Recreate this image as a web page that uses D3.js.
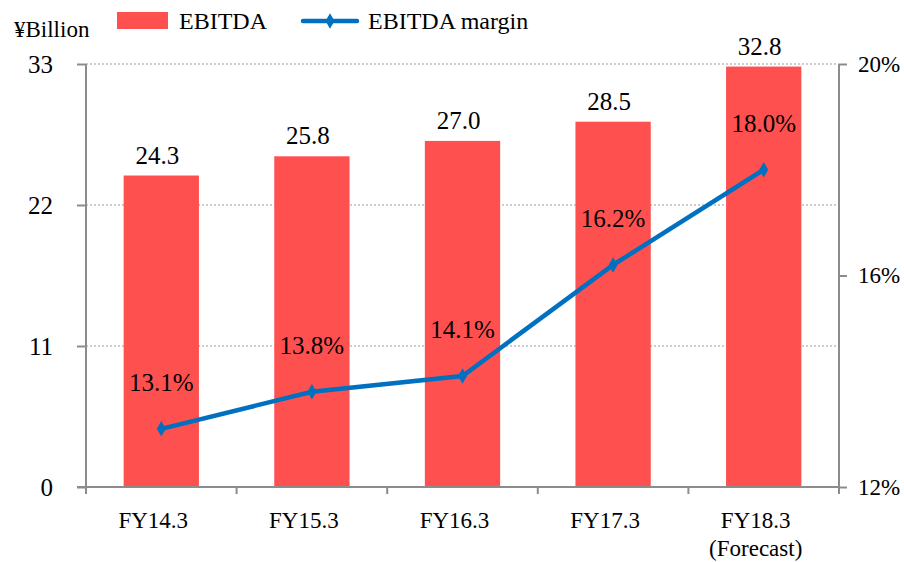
<!DOCTYPE html>
<html lang="en">
    <head>
        <meta http-equiv="Content-Type" content="text/html; charset=UTF-8" />
        <title>EBITDA</title>
        <script src="https://cdn.jsdelivr.net/npm/d3@7"></script>
        <style>
            body { margin: 0; background: #fff; }
        </style>
        <script>
            // data
            const categories = ['FY14.3', 'FY15.3', 'FY16.3', 'FY17.3', 'FY18.3']
            const subLabels = ['', '', '', '', '(Forecast)']
            const ebitda = [24.3, 25.8, 27.0, 28.5, 32.8]
            const margin = [13.1, 13.8, 14.1, 16.2, 18.0]
            const leftTicks = [0, 11, 22, 33]
            const rightTicks = [12, 16, 20]

            const dim = { w: 904, h: 562, left: 86, right: 839, top: 64, bottom: 487 }
            const barColor = '#ff5050'
            const lineColor = '#0070c0'
            const axisColor = '#8c8c8c'
            const serif = 'Liberation Serif'

            window.onload = () => draw()

            function label(sel, size) {
                return sel
                    .attr('font-family', serif)
                    .style('font-family', serif)
                    .style('font-size', size + 'px')
                    .style('fill', '#000')
            }

            function draw() {
                const svg = d3.select('#chart')
                    .attr('width', dim.w)
                    .attr('height', dim.h)

                const x = d3.scaleBand()
                    .domain(categories)
                    .range([dim.left, dim.right])
                    .paddingInner(0.5)
                    .paddingOuter(0.25)
                const cx = i => x(categories[i]) + x.bandwidth() / 2

                const y = d3.scaleLinear().domain([0, 33]).range([dim.bottom, dim.top])
                const y2 = d3.scaleLinear().domain([12, 20]).range([dim.bottom, dim.top])

                // gridlines
                svg.append('g')
                    .selectAll('line')
                    .data(leftTicks.filter(d => d > 0))
                    .enter()
                        .append('line')
                        .attr('x1', dim.left)
                        .attr('x2', dim.right)
                        .attr('y1', d => y(d))
                        .attr('y2', d => y(d))
                        .style('stroke', '#999')
                        .style('stroke-width', 1)
                        .style('stroke-dasharray', '2,2')

                // bars
                svg.append('g')
                    .selectAll('rect')
                    .data(ebitda)
                    .enter()
                        .append('rect')
                        .attr('x', (d, i) => x(categories[i]))
                        .attr('width', x.bandwidth())
                        .attr('y', d => y(d))
                        .attr('height', d => y(0) - y(d))
                        .style('fill', barColor)

                svg.append('g')
                    .selectAll('text')
                    .data(ebitda)
                    .enter()
                        .append('text')
                        .attr('x', (d, i) => cx(i) - 4)
                        .attr('y', d => y(d) - 12)
                        .attr('text-anchor', 'middle')
                        .call(label, 25)
                        .text(d => d.toFixed(1))

                // left axis
                const axisL = svg.append('g')
                    .attr('transform', `translate(${dim.left},0)`)
                    .call(d3.axisLeft(y).tickValues(leftTicks).tickSize(9).tickPadding(24).tickSizeOuter(0))
                axisL.select('.domain').attr('d', `M0,${dim.top}V${dim.bottom + 5}`)

                // right axis
                const axisR = svg.append('g')
                    .attr('transform', `translate(${dim.right},0)`)
                    .call(d3.axisRight(y2).tickValues(rightTicks).tickSize(8).tickPadding(11).tickSizeOuter(0)
                        .tickFormat(d => d + '%'))
                axisR.select('.domain').attr('d', `M0,${dim.top}V${dim.bottom + 5}`)

                // bottom axis with ticks at band edges
                const edges = categories.map(c => x(c) - x.step() * 0.25).concat([dim.right])
                const axisB = svg.append('g')
                axisB.append('line')
                    .attr('x1', dim.left - 9)
                    .attr('x2', dim.right)
                    .attr('y1', dim.bottom)
                    .attr('y2', dim.bottom)
                axisB.selectAll('line.tick')
                    .data(edges)
                    .enter()
                        .append('line')
                        .attr('class', 'tick')
                        .attr('x1', d => d)
                        .attr('x2', d => d)
                        .attr('y1', dim.bottom)
                        .attr('y2', dim.bottom + 7)
                axisB.selectAll('line').style('stroke', axisColor).style('stroke-width', 2)

                axisB.selectAll('text.cat')
                    .data(categories)
                    .enter()
                        .append('text')
                        .attr('class', 'cat')
                        .attr('x', (d, i) => cx(i) - 8)
                        .attr('y', 528)
                        .attr('text-anchor', 'middle')
                        .call(label, 23)
                        .text(d => d)
                axisB.selectAll('text.sub')
                    .data(subLabels)
                    .enter()
                        .append('text')
                        .attr('class', 'sub')
                        .attr('x', (d, i) => cx(i) - 8)
                        .attr('y', 556)
                        .attr('text-anchor', 'middle')
                        .call(label, 23)
                        .text(d => d)

                ;[axisL, axisR].forEach(a => {
                    a.attr('font-family', serif)
                    a.selectAll('.domain, .tick line').style('stroke', axisColor).style('stroke-width', 2)
                })
                axisL.selectAll('.tick text').call(label, 25)
                axisR.selectAll('.tick text').call(label, 23)

                // margin line
                const line = d3.line()
                    .x((d, i) => cx(i))
                    .y(d => y2(d))
                svg.append('path')
                    .datum(margin)
                    .attr('d', line)
                    .style('fill', 'none')
                    .style('stroke', lineColor)
                    .style('stroke-width', 4.5)

                const diamond = d3.symbol().type(d3.symbolDiamond).size(70)
                svg.append('g')
                    .selectAll('path')
                    .data(margin)
                    .enter()
                        .append('path')
                        .attr('d', diamond)
                        .attr('transform', (d, i) => `translate(${cx(i)},${y2(d)})`)
                        .style('fill', lineColor)

                svg.append('g')
                    .selectAll('text')
                    .data(margin)
                    .enter()
                        .append('text')
                        .attr('x', (d, i) => cx(i))
                        .attr('y', d => y2(d) - 38)
                        .attr('text-anchor', 'middle')
                        .call(label, 25)
                        .text(d => d.toFixed(1) + '%')

                // unit + legend
                svg.append('text')
                    .attr('x', 14)
                    .attr('y', 37)
                    .call(label, 23)
                    .text('¥Billion')

                const legend = svg.append('g')
                legend.append('rect')
                    .attr('x', 117).attr('y', 12)
                    .attr('width', 51).attr('height', 17)
                    .style('fill', barColor)
                legend.append('text')
                    .attr('x', 179).attr('y', 29)
                    .call(label, 24)
                    .text('EBITDA')
                legend.append('line')
                    .attr('x1', 303).attr('x2', 357)
                    .attr('y1', 21).attr('y2', 21)
                    .style('stroke', lineColor)
                    .style('stroke-width', 4.5)
                    .style('stroke-linecap', 'round')
                legend.append('path')
                    .attr('d', diamond)
                    .attr('transform', 'translate(330,21)')
                    .style('fill', lineColor)
                legend.append('text')
                    .attr('x', 368).attr('y', 29)
                    .call(label, 24)
                    .text('EBITDA margin')
            }
        </script>
    </head>
    <body>
        <svg id="chart"></svg>
    </body>
</html>
